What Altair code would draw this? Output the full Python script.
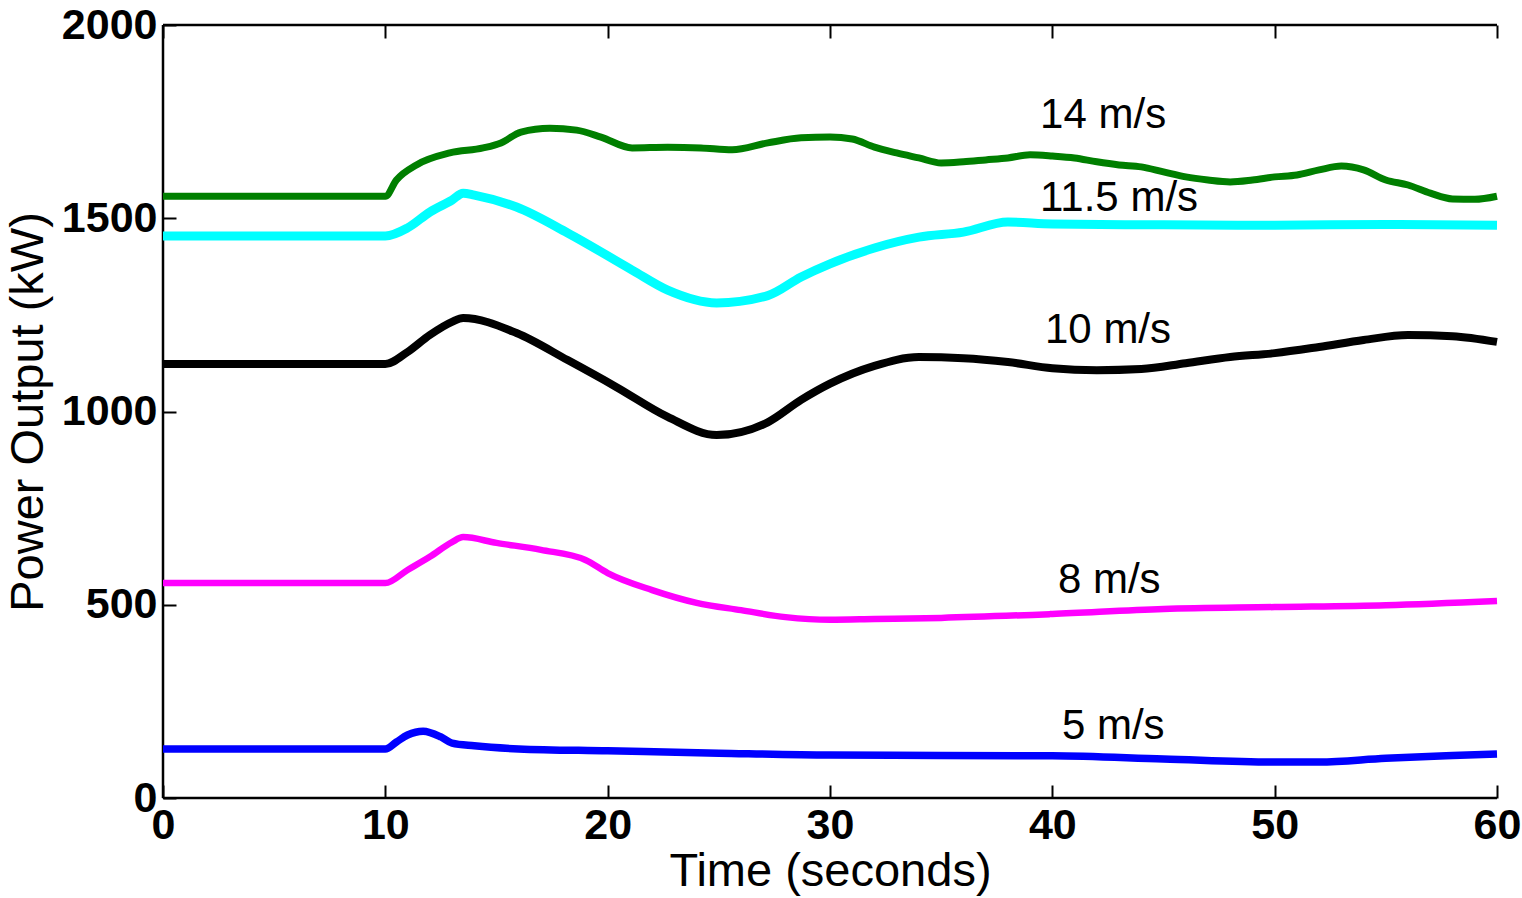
import altair as alt
import pandas as pd

# ---- data ----
t_14 = [0, 10, 10.5, 11.4, 12.9, 14.4, 15.2, 16.1, 17.4, 18.6, 19.7, 21.1, 22.7, 24.2, 25.6, 27.2, 28.7,
        30, 31, 32, 33, 34, 35, 36, 37, 38, 39, 40, 41, 42, 43, 44, 45, 46, 47, 48, 49, 50, 51, 52, 53,
        54, 55, 56, 57, 58, 59, 60]
p_14 = [1557, 1557, 1599, 1638, 1669, 1682, 1695, 1723, 1733, 1728, 1710, 1682, 1684, 1682, 1677, 1695, 1708,
        1710, 1705, 1684, 1669, 1656, 1643, 1646, 1651, 1656, 1664, 1661, 1656, 1646, 1638, 1633, 1620, 1607, 1599,
        1594, 1599, 1607, 1612, 1625, 1635, 1625, 1599, 1586, 1565, 1550, 1549, 1557]

t_115 = [0, 10, 11, 12, 13, 13.5, 14, 15.9, 18.2, 21.1, 22.7, 24.9, 27.2, 28.7, 30, 32, 34, 36, 38, 40, 45, 50, 55, 60]
p_115 = [1454, 1454, 1475, 1516, 1547, 1565, 1560, 1529, 1462, 1366, 1314, 1281, 1300, 1348, 1382, 1423, 1451,
         1464, 1490, 1485, 1483, 1482, 1484, 1482]

t_10 = [0, 10, 11, 12, 13, 13.5, 15.9, 18.2, 20.4, 22.7, 24.9, 27.2, 28.7, 30, 32, 34, 36, 38, 40, 42, 44, 46,
        48, 50, 52, 54, 56, 58, 60]
p_10 = [1123, 1123, 1154, 1198, 1232, 1242, 1203, 1133, 1063, 986, 939, 972, 1030, 1072, 1118, 1141, 1138, 1128,
        1112, 1107, 1110, 1125, 1141, 1151, 1167, 1185, 1198, 1195, 1180]

t_8 = [0, 10, 11, 12, 13, 13.5, 15, 17, 19, 20, 22, 24, 26, 28, 30, 32, 35, 40, 45, 50, 55, 60]
p_8 = [556, 556, 590, 624, 662, 675, 660, 642, 616, 582, 538, 505, 486, 468, 461, 463, 466, 476, 489, 494, 499, 510]

t_5 = [0, 10, 10.5, 11, 11.7, 12.5, 13, 14, 16, 20, 25, 30, 35, 40, 45, 50, 52, 55, 58, 60]
p_5 = [127, 127, 145, 163, 173, 158, 142, 135, 127, 122, 116, 111, 110, 109, 101, 93, 93, 103, 110, 114]

series_names = ["14 m/s", "11.5 m/s", "10 m/s", "8 m/s", "5 m/s"]
series_colors = ["#007F00", "#00FFFF", "#000000", "#FF00FF", "#0000FF"]
series_widths = [7, 9, 8, 6.5, 7.5]

label_t = [39.45, 39.45, 39.67, 40.25, 40.43]
label_p = [1767, 1552, 1211, 564, 186]

x_ticks = [0, 10, 20, 30, 40, 50, 60]
y_ticks = [0, 500, 1000, 1500, 2000]

FONT = "Liberation Sans"

series_data = [(t_14, p_14), (t_115, p_115), (t_10, p_10), (t_8, p_8), (t_5, p_5)]

xs = alt.Scale(domain=[0, 60], nice=False, zero=False)
ys = alt.Scale(domain=[0, 2000], nice=False, zero=False)

layers = []
for name, (ts, ps), col, w in zip(series_names, series_data, series_colors, series_widths):
    df = pd.DataFrame({"t": ts, "p": ps, "s": name})
    layers.append(
        alt.Chart(df).mark_line(color=col, strokeWidth=w, interpolate="monotone", strokeCap="butt").encode(
            x=alt.X("t:Q", scale=xs, axis=None),
            y=alt.Y("p:Q", scale=ys, axis=None),
        )
    )

# main axes (bottom / left) with inward ticks via negative offset
axis_layer = alt.Chart(pd.DataFrame({"t": [0], "p": [0]})).mark_point(opacity=0).encode(
    x=alt.X("t:Q", scale=xs, title="Time (seconds)",
            axis=alt.Axis(values=x_ticks, format="d", orient="bottom", offset=-13, tickSize=13, domain=False,
                          grid=False, labelFlush=False, labelOverlap=False, labelPadding=6,
                          labelFont=FONT, labelFontSize=43, labelFontWeight="bold", labelColor="black",
                          tickColor="black", tickWidth=2, titleFont=FONT, titleFontSize=47,
                          titleFontWeight="normal", titleColor="black", titlePadding=1)),
    y=alt.Y("p:Q", scale=ys, title="Power Output (kW)",
            axis=alt.Axis(values=y_ticks, format="d", orient="left", offset=-13, tickSize=13, domain=False,
                          grid=False, labelFlush=False, labelOverlap=False, labelPadding=6,
                          labelFont=FONT, labelFontSize=43, labelFontWeight="bold", labelColor="black",
                          tickColor="black", tickWidth=2, titleFont=FONT, titleFontSize=47,
                          titleFontWeight="normal", titleColor="black", titlePadding=9)),
)

# top axis: ticks only
top_axis_layer = alt.Chart(pd.DataFrame({"t": [0], "p": [0]})).mark_point(opacity=0).encode(
    x=alt.X("t:Q", scale=xs, title=None,
            axis=alt.Axis(values=x_ticks, orient="top", offset=-13, tickSize=13, domain=False,
                          grid=False, labels=False, tickColor="black", tickWidth=2)),
    y=alt.Y("p:Q", scale=ys, axis=None),
)

# frame: left, bottom, top (no right edge in the reference)
frame_v = alt.Chart(pd.DataFrame({"t": [0], "p0": [0], "p1": [2000]})).mark_rule(color="black", strokeWidth=2.5).encode(
    x=alt.X("t:Q", scale=xs, axis=None),
    y=alt.Y("p0:Q", scale=ys, axis=None),
    y2="p1:Q",
)
frame_h = alt.Chart(pd.DataFrame({"t0": [0, 0], "t1": [60, 60], "p": [0, 2000]})).mark_rule(color="black", strokeWidth=2.5).encode(
    x=alt.X("t0:Q", scale=xs, axis=None),
    x2="t1:Q",
    y=alt.Y("p:Q", scale=ys, axis=None),
)

labels_df = pd.DataFrame({"t": label_t, "p": label_p, "txt": series_names})
labels = alt.Chart(labels_df).mark_text(font=FONT, fontSize=42, align="left", baseline="middle", color="black").encode(
    x=alt.X("t:Q", scale=xs, axis=None),
    y=alt.Y("p:Q", scale=ys, axis=None),
    text="txt:N",
)

chart = alt.layer(axis_layer, top_axis_layer, frame_v, frame_h, *layers, labels).resolve_axis(
    x="independent", y="independent"
).properties(
    width=1334, height=773,
    autosize=alt.AutoSizeParams(type="none"),
    padding={"left": 163, "top": 25, "right": 25, "bottom": 100},
    background="white",
).configure_view(stroke=None)

chart.save("out.html", embed_options={"renderer": "svg", "actions": False})
